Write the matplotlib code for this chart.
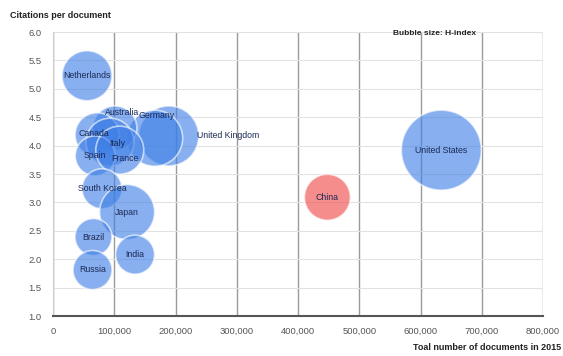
import matplotlib
matplotlib.use('Agg')
import matplotlib.pyplot as plt
from matplotlib.ticker import FuncFormatter, MultipleLocator

plt.rcParams['font.family'] = ['Liberation Sans', 'DejaVu Sans']

# データ
countries = ["Netherlands", "United States", "China", "United Kingdom", "Germany",
             "Australia", "Canada", "Italy", "Spain", "France",
             "South Korea", "Japan", "Brazil", "India", "Russia"]
documents = [55500, 634000, 448000, 189000, 166000,
             101000, 72000, 93000, 69000, 109000,
             80000, 121000, 66000, 134000, 64500]
citations = [5.23, 3.92, 3.09, 4.17, 4.13,
             4.31, 4.19, 4.06, 3.82, 3.92,
             3.24, 2.83, 2.39, 2.08, 1.81]
h_index = [838, 1783, 712, 1153, 1027,
           650, 650, 775, 523, 775,
           523, 996, 429, 492, 492]

# ラベル位置の調整（ピクセル）
label_offsets = {
    "United Kingdom": (59, 0),
    "Germany": (2, 23),
    "Australia": (7, 15),
    "Canada": (-3, 1),
    "Italy": (7, -1),
    "France": (5, -8),
}

fig = plt.figure(figsize=(5.63, 3.56), dpi=100)
ax = fig.add_axes([53 / 563, 40 / 356, 490 / 563, 284 / 356])

# バブル半径（ピクセル）をH-indexから線形に
r_min, r_max = 18.5, 40.0
h_lo, h_hi = min(h_index), max(h_index)
radii = [r_min + (h - h_lo) / (h_hi - h_lo) * (r_max - r_min) for h in h_index]
sizes = [(2 * r * 72 / 100) ** 2 for r in radii]
colors = ['#f04848' if c == "China" else '#3f7fe6' for c in countries]

ax.scatter(documents, citations, s=sizes, c=colors, alpha=0.62,
           edgecolors='white', linewidths=1.2, zorder=3)

for name, x, y in zip(countries, documents, citations):
    dx, dy = label_offsets.get(name, (0, 0))
    ax.annotate(name, (x, y), xytext=(dx, dy), textcoords='offset pixels',
                ha='center', va='center', fontsize=6.3, color='#1c2a55', zorder=4)

ax.set_xlim(0, 800000)
ax.set_ylim(1.0, 6.0)
ax.xaxis.set_major_locator(MultipleLocator(100000))
ax.yaxis.set_major_locator(MultipleLocator(0.5))
ax.xaxis.set_major_formatter(FuncFormatter(lambda v, p: f"{int(v):,}"))
ax.yaxis.set_major_formatter(FuncFormatter(lambda v, p: f"{v:.1f}"))
ax.tick_params(length=0, labelsize=6.8, labelcolor='#555555')
ax.tick_params(axis='x', pad=8)
ax.tick_params(axis='y', pad=8)

ax.grid(axis='x', color='#9a9a9a', linewidth=1.0, zorder=0)
ax.grid(axis='y', color='#e2e2e2', linewidth=0.8, zorder=0)
ax.set_axisbelow(True)

for side in ['top', 'right']:
    ax.spines[side].set_visible(False)
ax.spines['left'].set_color('#cccccc')
ax.spines['bottom'].set_color('#555555')
ax.spines['bottom'].set_linewidth(1.5)

fig.text(10 / 563, 1 - 16 / 356, "Citations per document", fontsize=6.5,
         fontweight='bold', color='#222222', ha='left', va='center')
fig.text(1 - 2 / 563, 1 - 347 / 356, "Toal number of documents in 2015", fontsize=6.5,
         fontweight='bold', color='#222222', ha='right', va='center')
ax.text(0.778, 0.995, "Bubble size: H-index", transform=ax.transAxes, fontsize=6,
        fontweight='bold', color='#222222', ha='center', va='center')

fig.savefig("out.png", dpi=100, facecolor='white')
